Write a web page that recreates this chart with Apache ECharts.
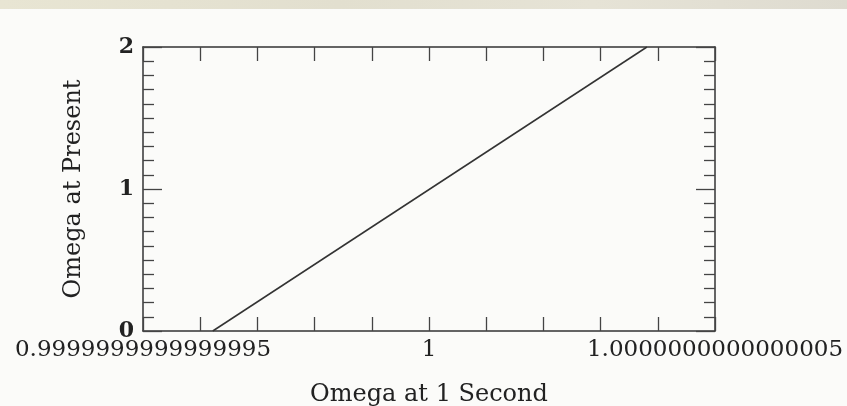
<!DOCTYPE html>
<html>
<head>
<meta charset="utf-8">
<script src="https://cdn.jsdelivr.net/npm/echarts@6/dist/echarts.min.js"></script>
<style>
html,body{margin:0;padding:0;background:#fbfbf9;}
#strip{position:absolute;left:0;top:0;width:847px;height:9px;background:linear-gradient(90deg,#e8e5d3,#e2dfcf 40%,#e6e3d6 70%,#dedbd0);}
#chart{position:absolute;left:0;top:0;width:847px;height:406px;}
</style>
</head>
<body>
<div id="strip"></div>
<div id="chart"></div>
<script>
// x values expressed as offset from 1, in units of 1e-16
const xValues = [-3.78, 3.81];
const yValues = [0, 2];
const xTickValues = [-5, 0, 5];
const xTickLabels = ['0.9999999999999995', '1', '1.0000000000000005'];
const yTickLabels = ['0', '1', '2'];
const xTitle = 'Omega at 1 Second';
const yTitle = 'Omega at Present';

const chart = echarts.init(document.getElementById('chart'), null, {renderer: 'canvas'});
const font = 'DejaVu Serif';
const ink = '#222';
const axisLine = {show: true, onZero: false, lineStyle: {color: '#333', width: 1.5}};

const xLabelFmt = v => {
  const i = xTickValues.indexOf(Math.round(v));
  return (i >= 0 && Math.abs(v - Math.round(v)) < 1e-9) ? xTickLabels[i] : '';
};

const option = {
  animation: false,
  backgroundColor: 'transparent',
  grid: {left: 143, right: 132, top: 47, bottom: 75, containLabel: false, outerBoundsMode: 'none'},
  xAxis: [
    {
      type: 'value', position: 'bottom', min: -5, max: 5, interval: 1,
      axisLine: axisLine,
      axisTick: {show: true, inside: true, length: 14, lineStyle: {color: '#444', width: 1.3}},
      axisLabel: {show: true, formatter: xLabelFmt, color: ink, fontFamily: font, fontSize: 23, margin: 8, showMinLabel: true, showMaxLabel: true, hideOverlap: false},
      splitLine: {show: false},
      name: xTitle, nameLocation: 'middle', nameGap: 52,
      nameTextStyle: {color: ink, fontFamily: font, fontSize: 24}
    },
    {
      type: 'value', position: 'top', min: -5, max: 5, interval: 1,
      axisLine: axisLine,
      axisTick: {show: true, inside: true, length: 14, lineStyle: {color: '#444', width: 1.3}},
      axisLabel: {show: false},
      splitLine: {show: false}
    }
  ],
  yAxis: [
    {
      type: 'value', position: 'left', min: 0, max: 2, interval: 1,
      axisLine: axisLine,
      axisTick: {show: true, inside: true, length: 19, lineStyle: {color: '#444', width: 1.3}},
      minorTick: {show: true, splitNumber: 10, length: 11, lineStyle: {color: '#444', width: 1.3}},
      axisLabel: {show: true, formatter: v => yTickLabels[Math.round(v)], color: ink, fontFamily: font, fontSize: 22, fontWeight: 'bold', margin: 9},
      splitLine: {show: false},
      minorSplitLine: {show: false},
      name: yTitle, nameLocation: 'middle', nameGap: 57, nameRotate: 90,
      nameTextStyle: {color: ink, fontFamily: font, fontSize: 24}
    },
    {
      type: 'value', position: 'right', min: 0, max: 2, interval: 1,
      axisLine: axisLine,
      axisTick: {show: true, inside: true, length: 19, lineStyle: {color: '#444', width: 1.3}},
      minorTick: {show: true, splitNumber: 10, length: 11, lineStyle: {color: '#444', width: 1.3}},
      axisLabel: {show: false},
      splitLine: {show: false},
      minorSplitLine: {show: false}
    }
  ],
  series: [{
    type: 'line',
    xAxisIndex: 0, yAxisIndex: 0,
    data: xValues.map((x, i) => [x, yValues[i]]),
    showSymbol: false,
    lineStyle: {color: '#333', width: 1.5},
    silent: true
  }]
};
chart.setOption(option);
</script>
</body>
</html>
